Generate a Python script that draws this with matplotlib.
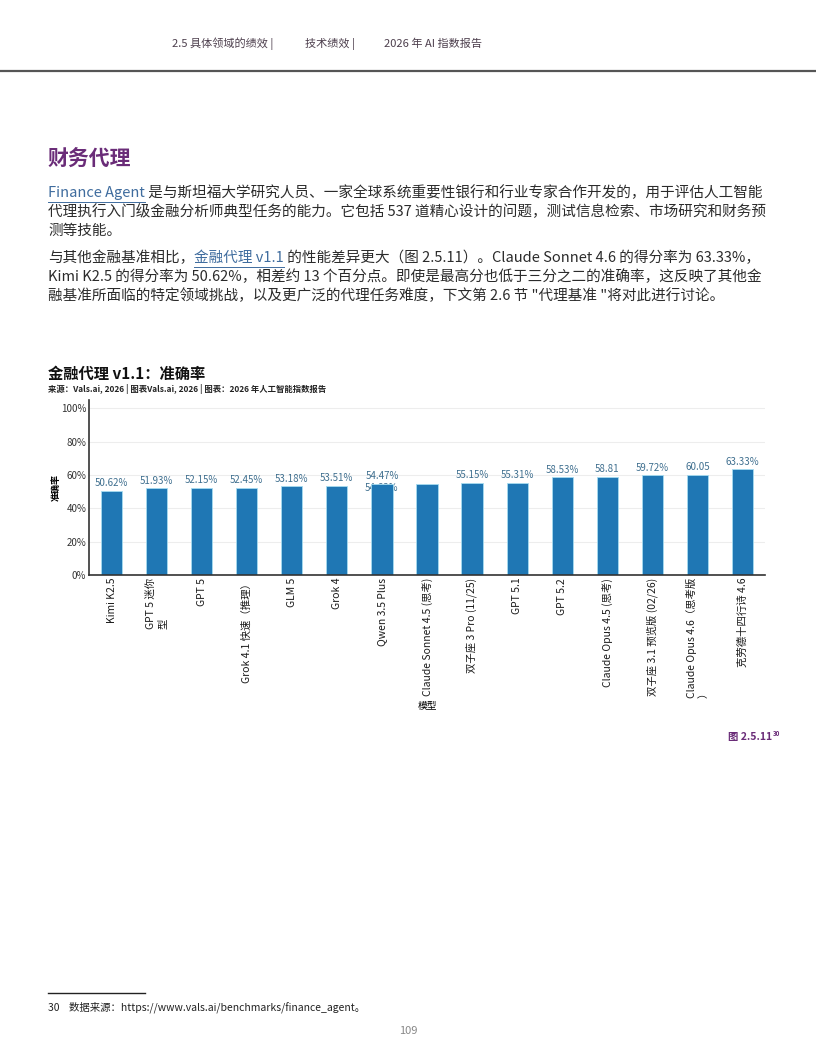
import numpy as np
import matplotlib.pyplot as plt

plt.rcParams['font.family'] = ['Noto Sans CJK SC', 'DejaVu Sans']

# 金融代理 v1.1 准确率 (%)
models = ['Kimi K2.5', 'GPT 5 迷你\n型', 'GPT 5', 'Grok 4.1 快速（推理）', 'GLM 5', 'Grok 4',
          'Qwen 3.5 Plus', 'Claude Sonnet 4.5 (思考)', '双子座 3 Pro (11/25)', 'GPT 5.1', 'GPT 5.2',
          'Claude Opus 4.5 (思考)', '双子座 3.1 预览版 (02/26)', 'Claude Opus 4.6（思考版\n）',
          '克劳德十四行诗 4.6']
accuracy = [50.62, 51.93, 52.15, 52.45, 53.18, 53.51, 54.47, 54.63, 55.15, 55.31,
            58.53, 58.81, 59.72, 60.05, 63.33]
value_labels = ['50.62%', '51.93%', '52.15%', '52.45%', '53.18%', '53.51%', '54.47%', '54.63%',
                '55.15%', '55.31%', '58.53%', '58.81', '59.72%', '60.05', '63.33%']
yticks = [0, 20, 40, 60, 80, 100]

W, H = 816, 1056
fig = plt.figure(figsize=(W / 100, H / 100), dpi=100)
renderer = fig.canvas.get_renderer()

body = '#2b2b2b'
link = '#3f6c9e'
purple = '#6a2c78'


def put(x, y, s, **kw):
    kw.setdefault('va', 'center')
    return fig.text(x / W, 1 - y / H, s, **kw)


def width_of(s, size, weight='normal'):
    t = fig.text(0, 0, '|' + s + '|', fontsize=size, fontweight=weight)
    w1 = t.get_window_extent(renderer).width
    t.set_text('||')
    w2 = t.get_window_extent(renderer).width
    t.remove()
    return w1 - w2


def runs(x, y, parts, size=10.5):
    for s, color, ul in parts:
        put(x, y, s, fontsize=size, color=color)
        w = width_of(s, size)
        if ul:
            fig.add_artist(plt.Line2D([x / W, (x + w) / W], [1 - (y + 9) / H] * 2,
                                      color=color, lw=0.7))
        x += w


# header
put(172, 44, '2.5 具体领域的绩效 |', fontsize=8, color='#4d3f4d')
put(305, 44, '技术绩效 |', fontsize=8, color='#4d3f4d')
put(384, 44, '2026 年 AI 指数报告', fontsize=8, color='#4d3f4d')
fig.add_artist(plt.Line2D([0, 1], [1 - 71 / H] * 2, color='#555555', lw=1.6))

put(48, 158, '财务代理', fontsize=15, fontweight='bold', color=purple)

runs(48, 193, [('Finance Agent', link, True),
               (' 是与斯坦福大学研究人员、一家全球系统重要性银行和行业专家合作开发的，用于评估人工智能', body, False)])
runs(48, 212, [('代理执行入门级金融分析师典型任务的能力。它包括 537 道精心设计的问题，测试信息检索、市场研究和财务预', body, False)])
runs(48, 231, [('测等技能。', body, False)])
runs(48, 258, [('与其他金融基准相比，', body, False), ('金融代理 v1.1', link, True),
               (' 的性能差异更大（图 2.5.11）。Claude Sonnet 4.6 的得分率为 63.33%，', body, False)])
runs(48, 277, [('Kimi K2.5 的得分率为 50.62%，相差约 13 个百分点。即使是最高分也低于三分之二的准确率，这反映了其他金', body, False)])
runs(48, 296, [('融基准所面临的特定领域挑战，以及更广泛的代理任务难度，下文第 2.6 节 "代理基准 "将对此进行讨论。', body, False)])

# chart
put(48, 374, '金融代理 v1.1：准确率', fontsize=11, fontweight='bold', color='#111111')
put(48, 389, '来源：Vals.ai, 2026 | 图表Vals.ai, 2026 | 图表：2026 年人工智能指数报告',
    fontsize=6, fontweight='bold', color='#222222')

ax = fig.add_axes([89 / W, 1 - 575 / H, (765 - 89) / W, (575 - 400) / H])
x = np.arange(len(models))
ax.bar(x, accuracy, width=0.47, color='#1f77b4', edgecolor='#a6dcf0', linewidth=0.6, zorder=2)
for i, (v, lab) in enumerate(zip(accuracy, value_labels)):
    if i == 7:
        # this label sits shifted onto the Qwen bar and is partly hidden by it
        ax.annotate(lab, (x[i - 1], v), xytext=(0, -3), textcoords='offset points',
                    ha='center', va='center', fontsize=7, color='#3f6f8f', zorder=1)
    else:
        ax.annotate(lab, (x[i], v), xytext=(0, 2), textcoords='offset points',
                    ha='center', va='bottom', fontsize=7, color='#3f6f8f', zorder=3)

ax.set_xlim(-0.5, len(models) - 0.5)
ax.set_ylim(0, 105)
ax.set_yticks(yticks)
ax.set_yticklabels([f'{t}%' for t in yticks])
ax.grid(axis='y', color='#ededed', lw=0.8, zorder=0)
ax.set_axisbelow(True)
ax.set_xticks(x)
ax.set_xticklabels(models, rotation=90, ha='center', va='top', multialignment='left',
                   fontsize=7.5, color='#1a1a1a')
ax.tick_params(axis='x', length=0, pad=2)
ax.tick_params(axis='y', length=0, pad=2, labelsize=7, labelcolor='#333333')
for s in ['top', 'right']:
    ax.spines[s].set_visible(False)
for s in ['left', 'bottom']:
    ax.spines[s].set_color('#333333')
    ax.spines[s].set_linewidth(1.2)
ax.set_ylabel('准确率', fontsize=6.5, fontweight='bold', labelpad=0)
ax.set_xlabel('模型', fontsize=7, labelpad=2)

put(772, 737, '图 2.5.11', fontsize=7.5, fontweight='bold', color=purple, ha='right')
put(773, 733, '30', fontsize=4.5, fontweight='bold', color=purple, ha='left')

# footnote
fig.add_artist(plt.Line2D([48 / W, 145 / W], [1 - 993 / H] * 2, color='#222222', lw=1))
put(48, 1007, '30    数据来源：https://www.vals.ai/benchmarks/finance_agent。', fontsize=7.5, color='#222222')
put(408, 1031, '109', fontsize=8, color='#888888', ha='center')

fig.savefig('out.png', dpi=100)
